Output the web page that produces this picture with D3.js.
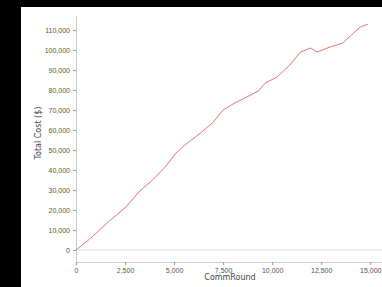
<!DOCTYPE html>
<html>
<head>
<meta charset="utf-8">
<script src="https://cdn.jsdelivr.net/npm/d3@7"></script>
<style>
  body { margin: 0; background: #000; }
  svg { display: block; font-family: "DejaVu Sans", sans-serif; }
</style>
</head>
<body>
<svg id="chart" width="382" height="287"></svg>
<script>
// values
const rounds = [0, 700, 1200, 1700, 2550, 3200, 3900, 4550, 5100, 5550, 6350, 7000, 7500, 8000,
    8700, 9300, 9650, 10250, 10900, 11450, 11950, 12300, 12950, 13600, 14150, 14500, 14900];
const totals = [0, 5500, 10000, 14500, 21500, 29000, 35000, 41500, 48500, 52500, 58500, 64000, 70000, 73000,
    76500, 79500, 83500, 86500, 92500, 99000, 101000, 99000, 101500, 103500, 108500, 111500, 113000];
const xTicks = [0, 2500, 5000, 7500, 10000, 12500, 15000];
const yTicks = [0, 10000, 20000, 30000, 40000, 50000, 60000, 70000, 80000, 90000, 100000, 110000];

const data = rounds.map((r, i) => ({round: r, total: totals[i]}));

const svg = d3.select("#chart");
const width = 382, height = 287;
const margin = {top: 15, right: 0, bottom: 25, left: 76};

// panel
svg.append("rect").attr("width", width).attr("height", height).attr("fill", "#000");
svg.append("rect").attr("x", 21).attr("y", 7).attr("width", width - 21).attr("height", height - 7).attr("fill", "#fff");

const x = d3.scaleLinear()
    .domain([0, 15600])
    .range([margin.left, width - margin.right]);

const y = d3.scaleLinear()
    .domain([-6000, 117500])
    .range([height - margin.bottom, margin.top]);

// zero line
svg.append("line")
    .attr("x1", x(0)).attr("x2", width)
    .attr("y1", y(0)).attr("y2", y(0))
    .attr("stroke", "#ddd");

const fmt = d3.format(",");

const xAxis = svg.append("g")
    .attr("transform", `translate(0,${height - margin.bottom})`)
    .call(d3.axisBottom(x).tickValues(xTicks).tickFormat(fmt).tickSize(3).tickSizeOuter(0));

const yAxis = svg.append("g")
    .attr("transform", `translate(${margin.left},0)`)
    .call(d3.axisLeft(y).tickValues(yTicks).tickFormat(fmt).tickSize(3).tickSizeOuter(0));

[xAxis, yAxis].forEach(g => {
    g.select(".domain").attr("stroke", "#ccc");
    g.selectAll(".tick line").attr("stroke", "#999");
    g.selectAll(".tick text").attr("fill", "#555").attr("font-size", 7);
});

svg.append("path")
    .datum(data)
    .attr("fill", "none")
    .attr("stroke", "#e57373")
    .attr("stroke-width", 1)
    .attr("d", d3.line().x(d => x(d.round)).y(d => y(d.total)));

svg.append("text")
    .attr("x", 230).attr("y", 280)
    .attr("text-anchor", "middle")
    .attr("font-size", 8)
    .attr("fill", "#444")
    .text("CommRound");

svg.append("text")
    .attr("transform", "rotate(-90)")
    .attr("x", -133).attr("y", 41)
    .attr("text-anchor", "middle")
    .attr("font-size", 8)
    .attr("fill", "#444")
    .text("Total Cost ($)");
</script>
</body>
</html>
